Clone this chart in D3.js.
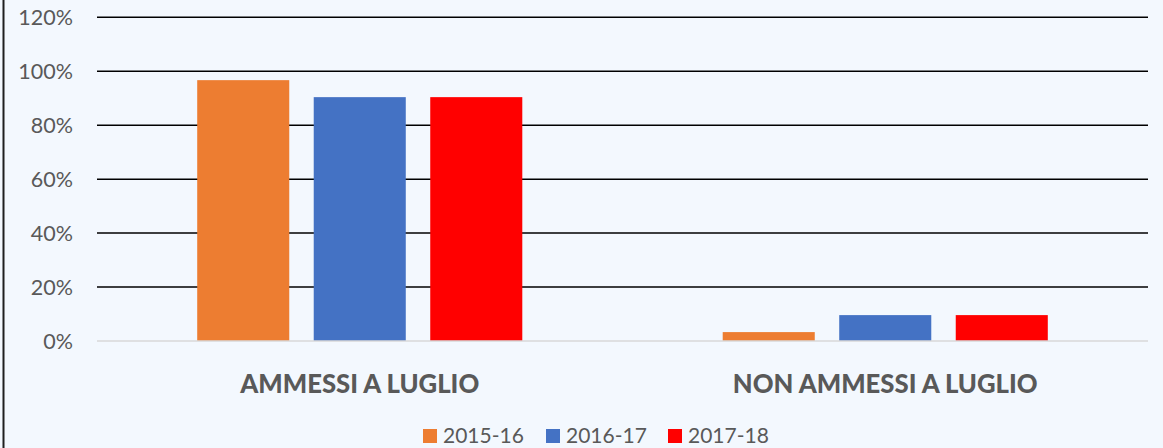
<!DOCTYPE html>
<html>
<head>
<meta charset="utf-8">
<script src="https://cdn.jsdelivr.net/npm/d3@7"></script>
<style>
  html, body { margin: 0; padding: 0; background: #F3F8FE; }
  svg { display: block; }
</style>
</head>
<body>
<svg id="chart" width="1163" height="448"></svg>
<script>
const categories = ["AMMESSI A LUGLIO", "NON AMMESSI A LUGLIO"];
const seriesNames = ["2015-16", "2016-17", "2017-18"];
const values2015 = [0.967, 0.033];
const values2016 = [0.904, 0.096];
const values2017 = [0.904, 0.096];
const tickValues = [0, 0.2, 0.4, 0.6, 0.8, 1.0, 1.2];
const colors = ["#ED7D31", "#4472C4", "#FF0000"];

const seriesValues = [values2015, values2016, values2017];
const data = categories.map((c, i) => ({
  category: c,
  values: seriesNames.map((s, j) => ({ series: s, value: seriesValues[j][i] }))
}));

const W = 1163, H = 448;
const plot = { left: 97, right: 1148, top: 17.3, bottom: 341 };
const svg = d3.select("#chart");
const font = "Lato, 'Carlito', Calibri, 'Open Sans', sans-serif";

svg.append("rect").attr("width", W).attr("height", H).attr("fill", "#F3F8FE");
// left border
svg.append("line").attr("x1", 3.5).attr("x2", 3.5).attr("y1", 0).attr("y2", H)
  .attr("stroke", "#1f1f1f").attr("stroke-width", 2);

const x0 = d3.scaleBand().domain(categories).range([plot.left, plot.right]).padding(0);
const x1 = d3.scaleBand().domain(seriesNames).range([0, x0.bandwidth()])
  .paddingInner(0.21).paddingOuter(0.86);
const y = d3.scaleLinear().domain([0, 1.2]).range([plot.bottom, plot.top]);
const color = d3.scaleOrdinal().domain(seriesNames).range(colors);

// gridlines
const grid = svg.append("g");
grid.selectAll("line").data(tickValues.filter(d => d > 0)).join("line")
  .attr("x1", plot.left).attr("x2", plot.right)
  .attr("y1", d => y(d)).attr("y2", d => y(d))
  .attr("stroke", "#000").attr("stroke-width", 1.5);

// y axis labels
const yAxis = d3.axisLeft(y).tickValues(tickValues).tickFormat(d3.format(".0%")).tickSize(0).tickPadding(0);
const ya = svg.append("g").attr("transform", `translate(73,0)`).call(yAxis);
ya.select(".domain").remove();
ya.selectAll("text").attr("font-family", font).attr("font-size", 21.5).attr("fill", "#595959").attr("dy", "0.35em");

// bars
const groups = svg.append("g").selectAll("g").data(data).join("g")
  .attr("transform", d => `translate(${x0(d.category)},0)`);
groups.selectAll("rect").data(d => d.values).join("rect")
  .attr("x", d => x1(d.series))
  .attr("width", x1.bandwidth())
  .attr("y", d => y(d.value))
  .attr("height", d => y(0) - y(d.value))
  .attr("fill", d => color(d.series));

// baseline
svg.append("line").attr("x1", plot.left).attr("x2", plot.right)
  .attr("y1", y(0)).attr("y2", y(0)).attr("stroke", "#D9D9D9").attr("stroke-width", 1.5);

// category labels
const xAxis = d3.axisBottom(x0).tickSize(0).tickPadding(0);
const xa = svg.append("g").attr("transform", `translate(0,393)`).call(xAxis);
xa.select(".domain").remove();
xa.selectAll("text").attr("font-family", font).attr("font-size", 25.7).attr("font-weight", 900)
  .attr("fill", "#595959").attr("dy", 0);

// legend
const legendX = [423, 546, 668];
const legend = svg.append("g");
const li = legend.selectAll("g").data(seriesNames).join("g")
  .attr("transform", (d, i) => `translate(${legendX[i]},0)`);
li.append("rect").attr("x", 0).attr("y", 429).attr("width", 14).attr("height", 14).attr("fill", d => color(d));
li.append("text").attr("x", 20).attr("y", 443).text(d => d)
  .attr("font-family", font).attr("font-size", 21).attr("fill", "#595959");
</script>
</body>
</html>
